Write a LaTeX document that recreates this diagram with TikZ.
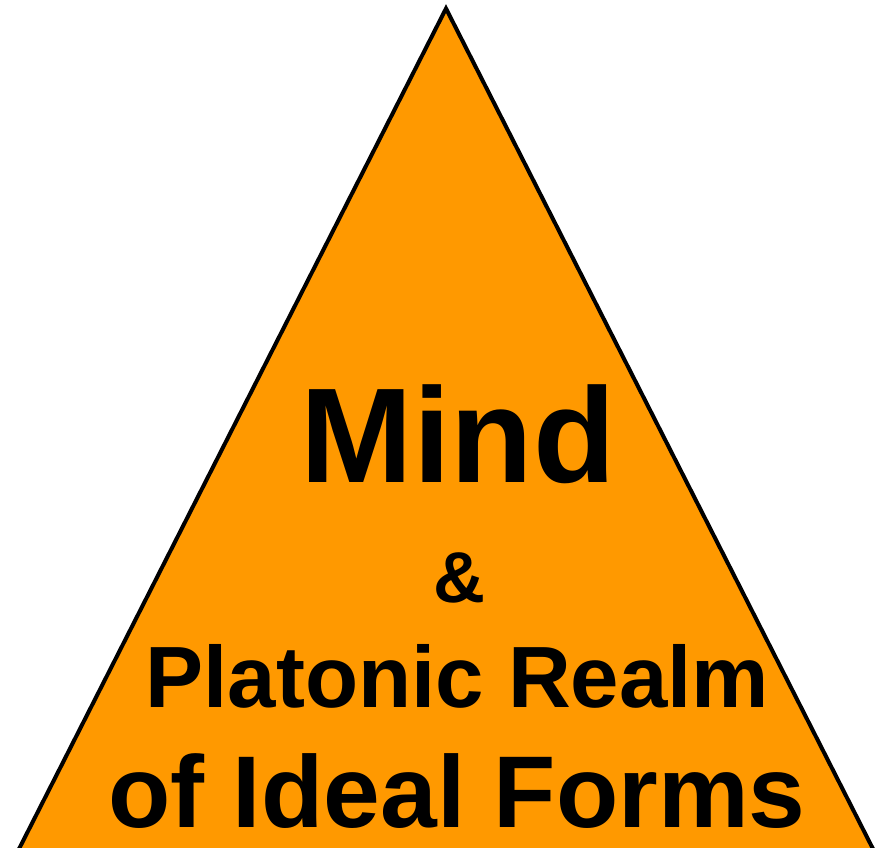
\documentclass[tikz,border=0pt]{standalone}
\usepackage{fontspec}
\setmainfont{Liberation Sans}
\usetikzlibrary{positioning}
\definecolor{naranjaMente}{RGB}{255, 153, 0}

\begin{document}
\begin{tikzpicture}[x=1pt, y=-1pt,
            triangulo/.style={draw=black, line width=4pt, fill=naranjaMente, line join=miter},
            texto/.style={inner sep=0pt, anchor=base, font=\fontsize{#1}{#1}\selectfont\bfseries}]

            \useasboundingbox (0,0) rectangle (883,848);
            \clip (0,0) rectangle (883,848);

            \coordinate (cima) at (446,8.5);
            \coordinate (izq) at (8.3,870);
            \coordinate (der) at (883.7,870);
            \draw[triangulo] (cima) -- (izq) -- (der) -- cycle;

            \node[texto=135pt] (mente) at (458,482) {Mind};
            \node[texto=72pt] (y) at (459,602) {\&};
            \node[texto=87pt] (reino) at (457.5,707) {Platonic Realm};
            \node[texto=102pt] (formas) at (457,827) {of Ideal Forms};
        \end{tikzpicture}
\end{document}
